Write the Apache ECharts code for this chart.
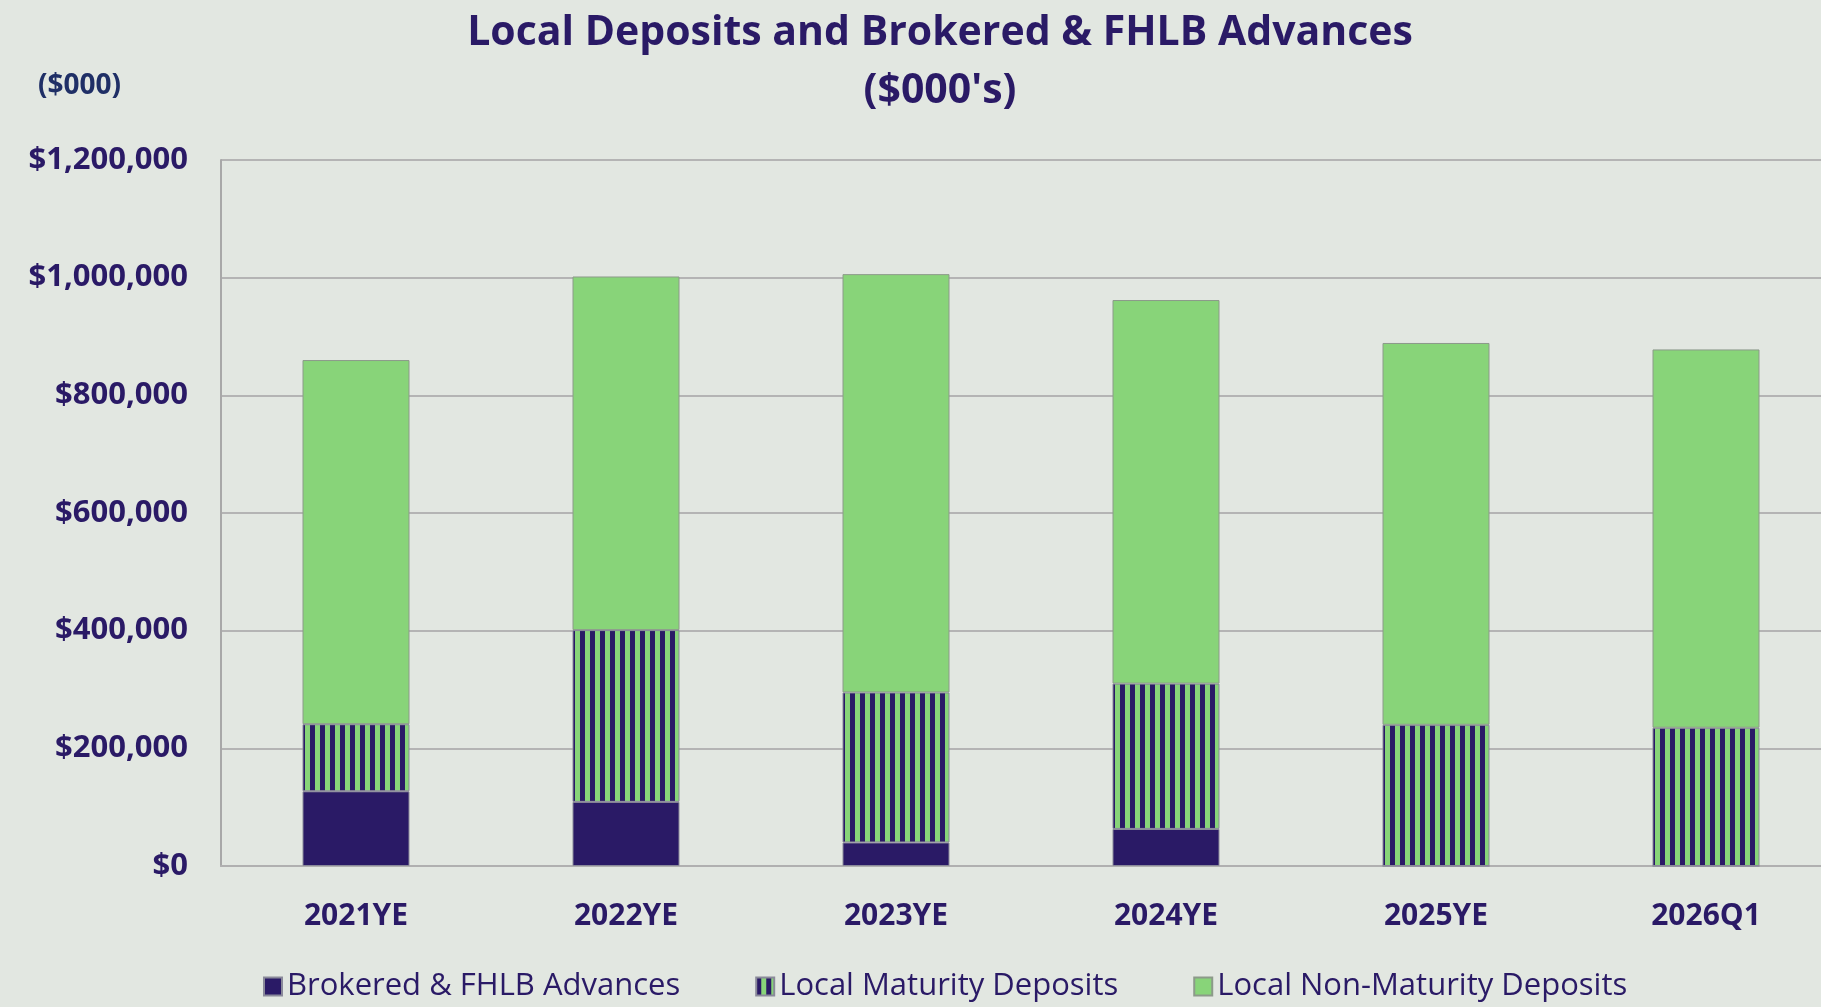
<!DOCTYPE html>
<html>
<head>
<meta charset="utf-8">
<title>Local Deposits and Brokered & FHLB Advances</title>
<script src="https://cdn.jsdelivr.net/npm/echarts@6/dist/echarts.min.js"></script>
<style>
  html, body { margin: 0; padding: 0; background: #e2e7e1; }
  #chart { width: 1821px; height: 1007px; }
</style>
</head>
<body>
<div id="chart"></div>
<script>
// values in $000
const categories = ['2021YE', '2022YE', '2023YE', '2024YE', '2025YE', '2026Q1']
const brokered = [127000, 109000, 40000, 63000, 0, 0]
const maturity = [114000, 292000, 255000, 247000, 240000, 235000]
const nonMaturity = [619000, 601000, 711000, 652000, 649000, 643000]

const NAVY = '#2a1a66'
const GREEN = '#88d479'
const FONT = '"Open Sans", "Noto Sans", sans-serif'

// vertical stripes for local maturity deposits
function stripePattern() {
  const c = document.createElement('canvas')
  c.width = 10
  c.height = 10
  const ctx = c.getContext('2d')
  ctx.fillStyle = GREEN
  ctx.fillRect(0, 0, 10, 10)
  ctx.fillStyle = NAVY
  ctx.fillRect(0, 0, 5, 10)
  return c
}

const chart = echarts.init(document.getElementById('chart'))

const barBase = {
  type: 'bar',
  stack: 'total',
  barWidth: 107,
  animation: false
}

chart.setOption({
  backgroundColor: '#e2e7e1',
  textStyle: { fontFamily: FONT },
  graphic: [
    {
      type: 'text', x: 940, y: 33,
      style: { text: 'Local Deposits and Brokered & FHLB Advances', align: 'center', verticalAlign: 'middle',
        fontSize: 41, fontWeight: 'bold', fontFamily: FONT, fill: NAVY }
    },
    {
      type: 'text', x: 940, y: 91,
      style: { text: "($000's)", align: 'center', verticalAlign: 'middle',
        fontSize: 41, fontWeight: 'bold', fontFamily: FONT, fill: NAVY }
    },
    {
      type: 'text', x: 38, y: 86,
      style: { text: '($000)', align: 'left', verticalAlign: 'middle',
        fontSize: 28, fontWeight: 'bold', fontFamily: FONT, fill: '#1f2f66' }
    }
  ],
  grid: {
    left: 221,
    right: -20,
    top: 160,
    bottom: 141,
    containLabel: false,
    outerBoundsMode: 'none'
  },
  legend: {
    left: 258,
    top: 966,
    itemGap: 75,
    itemWidth: 18,
    itemHeight: 18,
    icon: 'rect',
    textStyle: { fontSize: 31, color: NAVY, fontFamily: FONT },
    data: ['Brokered & FHLB Advances', 'Local Maturity Deposits', 'Local Non-Maturity Deposits']
  },
  xAxis: {
    type: 'category',
    data: categories,
    axisTick: { show: false },
    axisLine: { lineStyle: { color: '#b0b0b0', width: 2 } },
    axisLabel: { margin: 35, fontSize: 30, fontWeight: 'bold', color: NAVY, fontFamily: FONT }
  },
  yAxis: {
    type: 'value',
    min: 0,
    max: 1200000,
    interval: 200000,
    axisLine: { show: true, lineStyle: { color: '#a8a8a8', width: 2 } },
    axisTick: { show: false },
    splitLine: { lineStyle: { color: '#b4b4b4', width: 2 } },
    axisLabel: {
      margin: 33,
      fontSize: 31,
      fontWeight: 'bold',
      color: NAVY,
      fontFamily: FONT,
      formatter: v => '$' + v.toLocaleString('en-US')
    }
  },
  series: [
    {
      ...barBase,
      name: 'Brokered & FHLB Advances',
      data: brokered,
      itemStyle: { color: NAVY, borderColor: '#8a8a9a', borderWidth: 1 }
    },
    {
      ...barBase,
      name: 'Local Maturity Deposits',
      data: maturity,
      itemStyle: { color: { image: stripePattern(), repeat: 'repeat' }, borderColor: '#8a8a9a', borderWidth: 1 }
    },
    {
      ...barBase,
      name: 'Local Non-Maturity Deposits',
      data: nonMaturity,
      itemStyle: { color: GREEN, borderColor: '#8c9a8a', borderWidth: 1 }
    }
  ]
})
</script>
</body>
</html>
